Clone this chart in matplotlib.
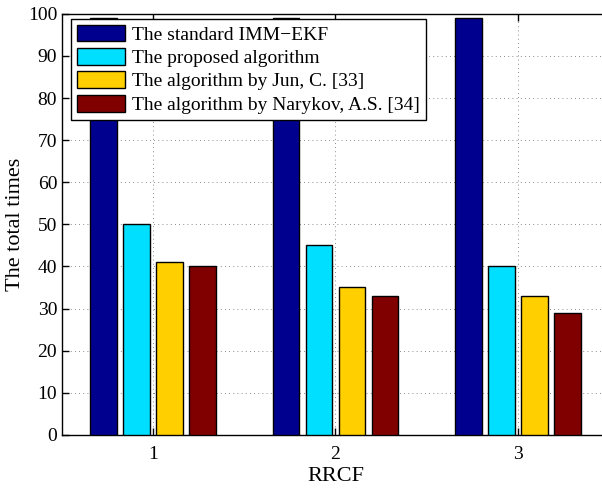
import matplotlib
matplotlib.use("Agg")
import matplotlib.pyplot as plt
import numpy as np

# ── Data ──────────────────────────────────────────────────────────────
groups = [1, 2, 3]
series_labels = [
    "The standard IMM\u2212EKF",
    "The proposed algorithm",
    "The algorithm by Jun, C. [33]",
    "The algorithm by Narykov, A.S. [34]",
]
imm_ekf = [99, 99, 99]
proposed = [50, 45, 40]
jun = [41, 35, 33]
narykov = [40, 33, 29]

colors = ["#00008F", "#00DFFF", "#FFCF00", "#800000"]

plt.rcParams["font.family"] = ["Liberation Serif", "DejaVu Serif"]

fig = plt.figure(figsize=(6.02, 4.93), dpi=100)
ax = fig.add_axes([0.103, 0.118, 0.9086, 0.854])

x = np.array(groups, dtype=float)
pitch = 0.181
width = 0.148
offsets = (np.arange(4) - 1.5) * pitch
for off, vals, col, lab in zip(offsets, [imm_ekf, proposed, jun, narykov],
                               colors, series_labels):
    ax.bar(x + off, vals, width=width, color=col, edgecolor="black",
           linewidth=1.0, label=lab, zorder=3)

ax.set_xlim(0.5, 3.5)
ax.set_ylim(0, 100)
ax.set_xticks(groups)
ax.set_yticks(np.arange(0, 101, 10))
ax.grid(True, linestyle=(0, (1, 4)), color="#666666", linewidth=0.6)
ax.set_axisbelow(True)
ax.tick_params(direction="in", top=True, right=True, length=5,
               labelsize=14, width=1)
ax.tick_params(axis="x", pad=8)
for sp in ax.spines.values():
    sp.set_linewidth(1.0)

ax.set_xlabel("RRCF", fontsize=16, labelpad=3)
ax.set_ylabel("The total times", fontsize=16, labelpad=2)

leg = ax.legend(loc="upper left", bbox_to_anchor=(0.0165, 0.988),
                fontsize=14, frameon=True, fancybox=False, shadow=False,
                handlelength=2.5, handleheight=0.95, labelspacing=0.22,
                borderpad=0.3, handletextpad=0.35, borderaxespad=0.0)
leg.get_frame().set_edgecolor("black")
leg.get_frame().set_linewidth(1.0)
leg.get_frame().set_alpha(1.0)

fig.savefig("out.png", dpi=100)
